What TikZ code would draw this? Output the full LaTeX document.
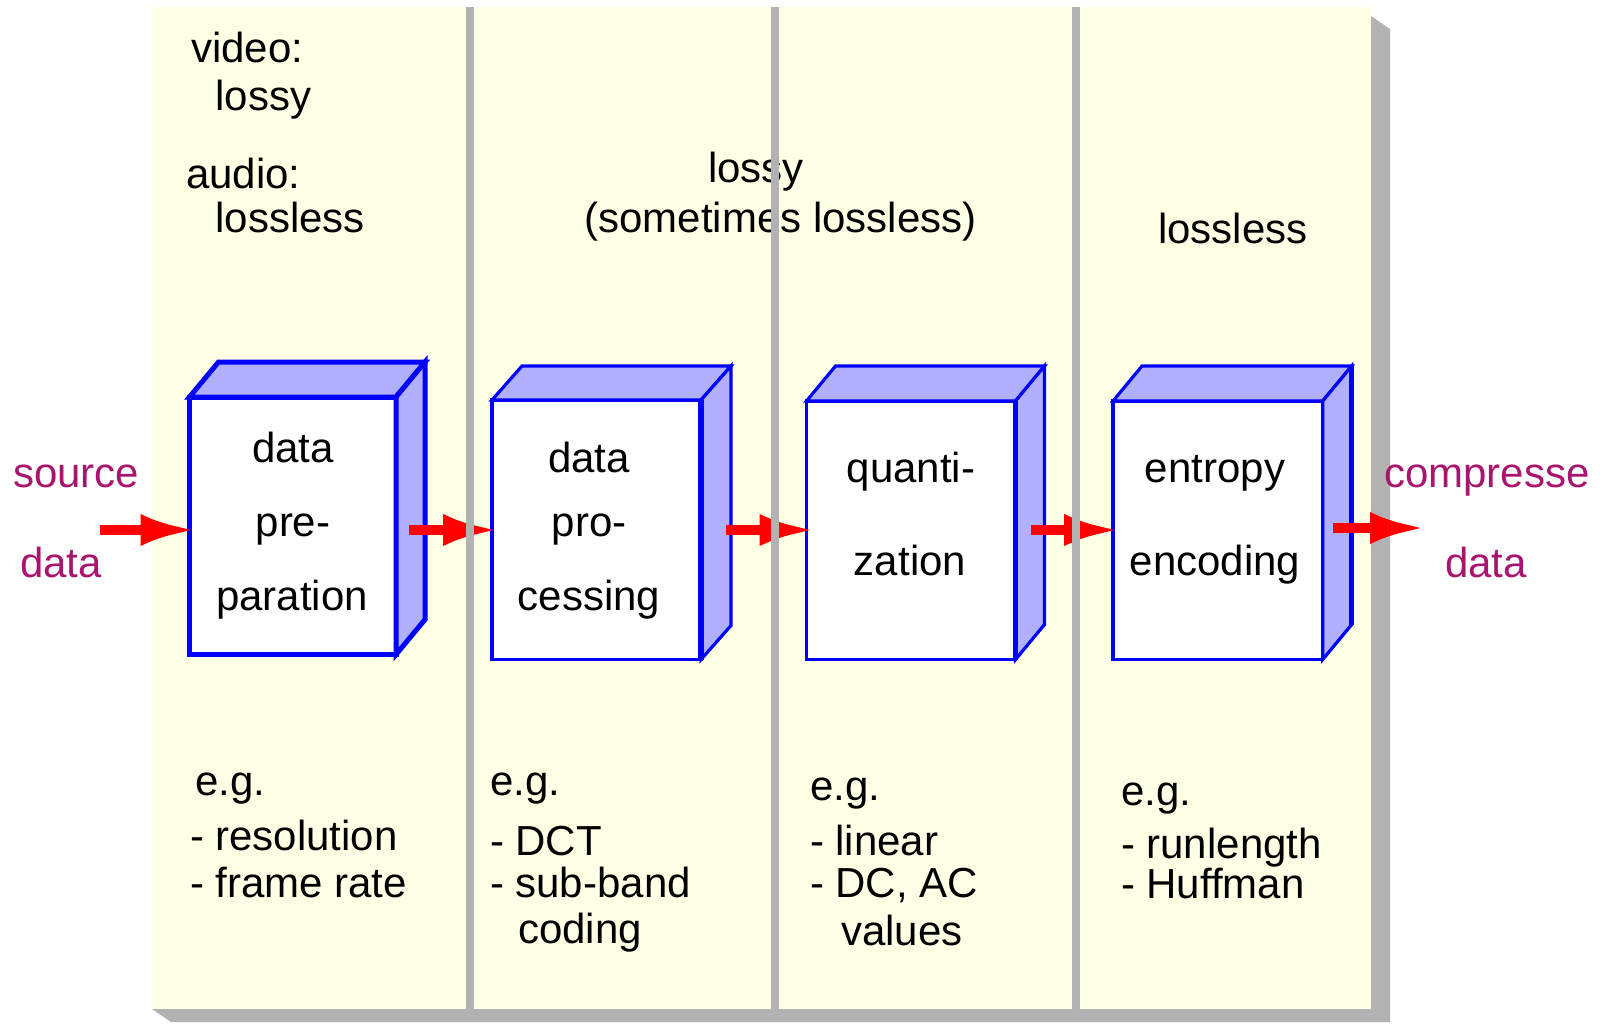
\documentclass[tikz,border=0pt]{standalone}
\usepackage{fontspec}
\setmainfont{Liberation Sans}
\usetikzlibrary{arrows.meta,calc}
\definecolor{panelyellow}{RGB}{255,255,230}
\definecolor{shadowgray}{RGB}{178,178,178}
\definecolor{boxblue}{RGB}{0,0,255}
\definecolor{facefill}{RGB}{176,176,255}
\definecolor{arrowred}{RGB}{255,0,0}
\definecolor{labelmagenta}{RGB}{168,20,110}
\begin{document}
\begin{tikzpicture}[x=1pt,y=-1pt,
  every node/.style={inner sep=0pt,outer sep=0pt,font=\fontsize{42}{50}\selectfont},
  txt/.style={anchor=base west},
  ctxt/.style={anchor=base},
  lbl/.style={anchor=base west,text=labelmagenta},
  front/.style={draw=boxblue,fill=white,line join=miter},
  face/.style={draw=boxblue,fill=facefill,line join=miter},
  thickedge/.style={draw=boxblue,line width=5.5pt},
  flow/.style={draw=arrowred,line width=10pt,-{Latex[length=56pt,width=32pt]}},
  divider/.style={fill=shadowgray}]
\useasboundingbox (0,0) rectangle (1605,1023);
% shadow and panel
\fill[shadowgray] (1371,16) -- (1390,29) -- (1390,1022) -- (171,1022) -- (152,1009) -- (1371,1009) -- cycle;
\fill[panelyellow] (152,7) rectangle (1371,1009);

% boxes: front faces
\node[front,line width=5pt,minimum width=206.5pt,minimum height=257.5pt] (b1f) at (292.75,525.75) {};
\node[front,line width=3.2pt,minimum width=209pt,minimum height=259.5pt] (b2f) at (596.5,529.75) {};
\node[front,line width=3.2pt,minimum width=209pt,minimum height=258.5pt] (b3f) at (911,530.25) {};
\node[front,line width=3.2pt,minimum width=209.7pt,minimum height=258.5pt] (b4f) at (1217.85,530.25) {};

% box 1 top/side faces
\draw[face,line width=5pt] (b1f.north west) -- ++(29,-35) -- ($(b1f.north east)+(29,-35)$) -- (b1f.north east) -- cycle;
\draw[face,line width=5pt] (b1f.north east) -- ++(29,-35) -- ($(b1f.south east)+(29,-35)$) -- (b1f.south east) -- cycle;
% box 2
\draw[face,line width=3.2pt] (b2f.north west) -- ++(30,-34) -- ($(b2f.north east)+(30,-34)$) -- (b2f.north east) -- cycle;
\draw[face,line width=3.2pt] (b2f.north east) -- ++(30,-34) -- ($(b2f.south east)+(30,-34)$) -- (b2f.south east) -- cycle;
\draw[thickedge] (b2f.north east) -- (b2f.south east);
% box 3
\draw[face,line width=3.2pt] (b3f.north west) -- ++(29,-35) -- ($(b3f.north east)+(29,-35)$) -- (b3f.north east) -- cycle;
\draw[face,line width=3.2pt] (b3f.north east) -- ++(29,-35) -- ($(b3f.south east)+(29,-35)$) -- (b3f.south east) -- cycle;
\draw[thickedge] (b3f.north east) -- (b3f.south east);
% box 4
\draw[face,line width=3.2pt] (b4f.north west) -- ++(29,-35) -- ($(b4f.north east)+(29,-35)$) -- (b4f.north east) -- cycle;
\draw[face,line width=3.2pt] (b4f.north east) -- ++(29,-35) -- ($(b4f.south east)+(29,-35)$) -- (b4f.south east) -- cycle;
\draw[thickedge] ($(b4f.north east)+(29,-35)$) -- ($(b4f.south east)+(29,-35)$);

% box texts
\node[ctxt] (b1a) at (293,462) {data};
\node[ctxt] (b1b) at (293,536) {pre-};
\node[ctxt] (b1c) at (292,610) {paration};
\node[ctxt] (b2a) at (589,472) {data};
\node[ctxt] (b2b) at (589,536) {pro-};
\node[ctxt] (b2c) at (589,610) {cessing};
\node[ctxt] (b3a) at (911,482) {quanti-};
\node[ctxt] (b3b) at (910,575) {zation};
\node[ctxt] (b4a) at (1215,482) {entropy};
\node[ctxt] (b4b) at (1215,575) {encoding};

% arrows
\coordinate (ay) at (0,530);
\coordinate (srcstart) at (100,530);
\coordinate (outend) at (1426,528);
\draw[flow] (srcstart) -- ($(b1f.west |- ay)+(7,0)$);
\draw[flow] ($(b1f.east |- ay)+(13,0)$) -- ($(b2f.west |- ay)+(7,0)$);
\draw[flow] ($(b2f.east |- ay)+(25,0)$) -- ($(b3f.west |- ay)+(9,0)$);
\draw[flow] ($(b3f.east |- ay)+(15,0)$) -- ($(b4f.west |- ay)+(7,0)$);
\draw[flow] ($(b4f.east |- outend)+(10,0)$) -- (outend);

% outer labels
\node[lbl] (lsrc) at (13,487) {source};
\node[lbl] (lsrcd) at (20,577) {data};
\node[lbl] (lcmp) at (1384,487) {compresse};
\node[lbl] (lcmpd) at (1445,577) {data};

% top labels
\node[txt] (tvideo) at (191,62) {video:};
\node[txt] (tvlossy) at (215.5,110) {lossy};
\node[txt] (taudio) at (186,188) {audio:};
\node[txt] (talossless) at (215.5,232) {lossless};
\node[txt] (tmlossy) at (708,182) {lossy};
\node[txt] (tmsome) at (584.5,232) {(sometimes lossless)};
\node[txt] (trlossless) at (1158,243) {lossless};

% bottom examples
\node[txt] (e1) at (195,795) {e.g.};
\node[txt] (e1a) at (190,850) {- resolution};
\node[txt] (e1b) at (190,897) {- frame rate};
\node[txt] (e2) at (490,795) {e.g.};
\node[txt] (e2a) at (490,855) {- DCT};
\node[txt] (e2b) at (490,897) {- sub-band};
\node[txt] (e2c) at (518,943) {coding};
\node[txt] (e3) at (810,800) {e.g.};
\node[txt] (e3a) at (810,855) {- linear};
\node[txt] (e3b) at (810,897) {- DC, AC};
\node[txt] (e3c) at (841,945) {values};
\node[txt] (e4) at (1121,805) {e.g.};
\node[txt] (e4a) at (1121,858) {- runlength};
\node[txt] (e4b) at (1121,898) {- Huffman};

% dividers on top
\fill[divider] (466,7) rectangle (474,1009);
\fill[divider] (771,7) rectangle (779,1009);
\fill[divider] (1072,7) rectangle (1080,1009);
\end{tikzpicture}
\end{document}
